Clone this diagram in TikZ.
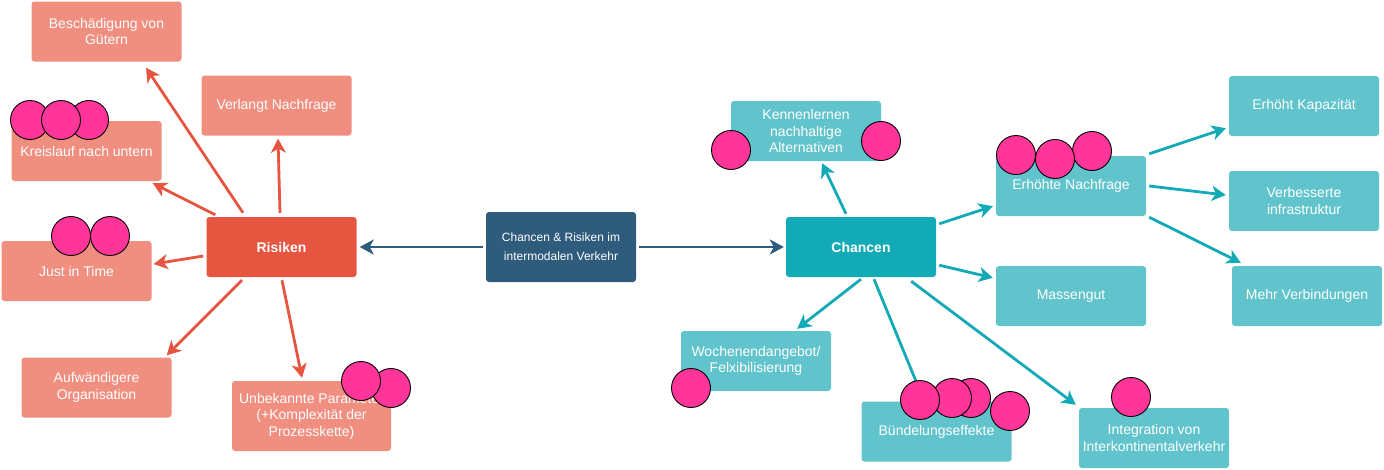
\documentclass[tikz,border=0pt]{standalone}
\usepackage{fontspec}
\setmainfont{Liberation Sans}
\usetikzlibrary{arrows.meta}
\definecolor{risikorot}{RGB}{230,85,64}
\definecolor{risikohell}{RGB}{240,142,128}
\definecolor{chancetuerkis}{RGB}{18,170,182}
\definecolor{chancehell}{RGB}{97,196,204}
\definecolor{zentrumblau}{RGB}{47,91,124}
\definecolor{punktpink}{RGB}{255,53,153}

\tikzset{
    box/.style={rectangle, rounded corners=3pt, minimum width=150pt, minimum height=60pt,
        inner sep=0pt, align=center, text=white, font=\fontsize{14}{16.5}\selectfont},
    risiko/.style={box, fill=risikohell},
    chance/.style={box, fill=chancehell},
    spitze/.style={-{Stealth[length=14pt,width=15pt,inset=4pt]}},
    pfeilrot/.style={spitze, draw=risikorot, line width=2.8pt},
    pfeiltuerkis/.style={spitze, draw=chancetuerkis, line width=2.8pt},
    pfeilblau/.style={spitze, draw=zentrumblau, line width=2.8pt},
    punkt/.style={circle, draw=black, line width=0.9pt, fill=punktpink, minimum size=39pt, inner sep=0pt}
}

\begin{document}
\begin{tikzpicture}[x=1pt, y=-1pt]
            \useasboundingbox (0,0) rectangle (1384,469);

            % center node
            \node[box, fill=zentrumblau, minimum height=70pt, font=\fontsize{12}{19}\selectfont] (zentrum) at (561, 247) {Chancen \& Risiken im\\intermodalen Verkehr};

            % left side: risks
            \node[box, fill=risikorot, font=\fontsize{14}{16.5}\selectfont\bfseries] (risiken) at (281.5, 247) {Risiken};
            \node[risiko] (beschaedigung) at (106.5, 31.5) {Beschädigung von\\Gütern};
            \node[risiko] (verlangt) at (276.5, 105.5) {Verlangt Nachfrage};
            \node[risiko] (kreislauf) at (86.5, 151) {Kreislauf nach untern};
            \node[risiko] (jit) at (76.5, 271) {Just in Time};
            \node[risiko] (aufwand) at (96.5, 387.5) {Aufwändigere\\Organisation};
            \node[risiko, minimum width=159pt, minimum height=70pt] (unbekannt) at (311.5, 416) {Unbekannte Parameter\\(+Komplexität der\\Prozesskette)};

            % right side: chances
            \node[box, fill=chancetuerkis, font=\fontsize{14}{16.5}\selectfont\bfseries] (chancen) at (861, 247) {Chancen};
            \node[chance] (kennen) at (806, 131) {Kennenlernen\\nachhaltige\\Alternativen};
            \node[chance] (erhoehte) at (1071, 186) {Erhöhte Nachfrage};
            \node[chance] (massengut) at (1071, 296) {Massengut};
            \node[chance] (kapazitaet) at (1304, 106) {Erhöht Kapazität};
            \node[chance] (infra) at (1304, 201) {Verbesserte\\infrastruktur};
            \node[chance] (verbindungen) at (1307, 296) {Mehr Verbindungen};
            \node[chance] (wochenende) at (756, 361) {Wochenendangebot/\\Felxibilisierung};
            \node[chance] (buendel) at (936.5, 431.5) {Bündelungseffekte};
            \node[chance] (integration) at (1154, 438) {Integration von\\Interkontinentalverkehr};

            % connect center to both sides
            \draw[pfeilblau, shorten <=3pt, shorten >=3pt] (zentrum.west) -- (risiken.east);
            \draw[pfeilblau, shorten <=3pt, shorten >=2pt] (zentrum.east) -- (chancen.west);

            % risk arrows
            \draw[pfeilrot] ([xshift=-38.5pt, yshift=4pt]risiken.north) -- ([xshift=39.5pt, yshift=-6pt]beschaedigung.south);
            \draw[pfeilrot] ([xshift=-1.5pt, yshift=4pt]risiken.north) -- ([xshift=1.5pt, yshift=-3pt]verlangt.south);
            \draw[pfeilrot] ([xshift=9pt, yshift=2pt]risiken.north west) -- ([xshift=-9pt, yshift=-2pt]kreislauf.south east);
            \draw[pfeilrot] ([xshift=-3pt, yshift=-9pt]risiken.west) -- ([xshift=2pt, yshift=7pt]jit.east);
            \draw[pfeilrot] ([xshift=-39.5pt, yshift=-3pt]risiken.south) -- ([xshift=-5pt, yshift=2pt]aufwand.north east);
            \draw[pfeilrot] ([xshift=0.5pt, yshift=-3pt]risiken.south) -- ([xshift=-9.5pt, yshift=3pt]unbekannt.north);

            % chance arrows
            \draw[pfeiltuerkis] ([xshift=-15pt, yshift=3pt]chancen.north) -- ([xshift=16pt, yshift=-2pt]kennen.south);
            \draw[pfeiltuerkis] ([xshift=3pt, yshift=-7pt]chancen.north east) -- ([xshift=-3pt, yshift=10pt]erhoehte.south west);
            \draw[pfeiltuerkis] ([xshift=3pt, yshift=12pt]chancen.south east) -- ([xshift=-3pt, yshift=-12pt]massengut.north west);
            \draw[pfeiltuerkis] ([yshift=-2pt]chancen.south) -- ([xshift=-34pt, yshift=2pt]wochenende.north east);
            \draw[pfeiltuerkis] ([xshift=13pt, yshift=-2pt]chancen.south) -- ([xshift=-13.5pt, yshift=3pt]buendel.north);
            \draw[pfeiltuerkis] ([xshift=-25pt, yshift=-4pt]chancen.south east) -- ([xshift=-3pt, yshift=3pt]integration.north west);
            \draw[pfeiltuerkis] ([xshift=3pt, yshift=2pt]erhoehte.north east) -- ([xshift=-3pt, yshift=8pt]kapazitaet.south west);
            \draw[pfeiltuerkis] ([xshift=3pt]erhoehte.east) -- ([xshift=-3pt, yshift=6pt]infra.west);
            \draw[pfeiltuerkis] ([xshift=3pt, yshift=-1pt]erhoehte.south east) -- ([xshift=9pt, yshift=3pt]verbindungen.north west);

            % pink dots on top of everything
            \foreach \x/\y [count=\i] in {30/120, 89/120, 61/120, 71/236, 110/236, 391/388, 361/381,
                731/150, 881/141, 1016/155, 1092/151, 1055/159, 691/388,
                971/398, 952/398, 920/400, 1010/411, 1131/397}
            \node[punkt] (p\i) at (\x, \y) {};

\end{tikzpicture}
\end{document}
